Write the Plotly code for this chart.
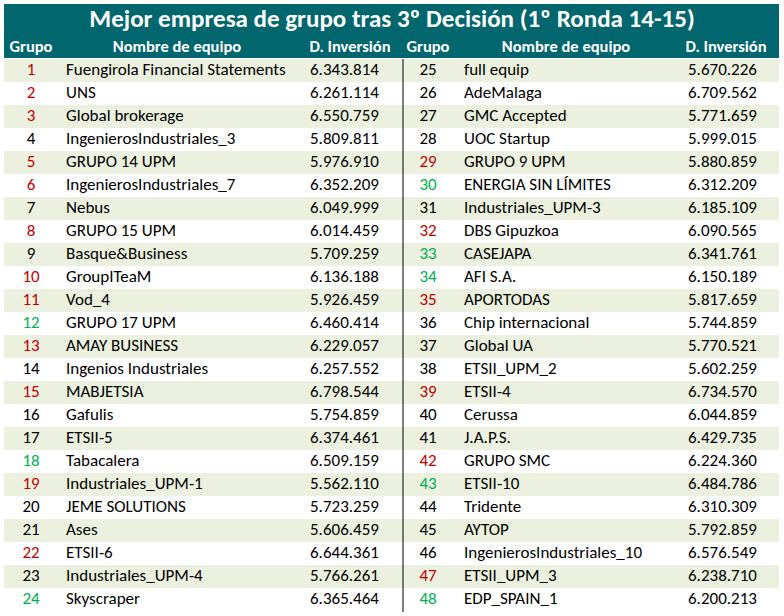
import plotly.graph_objects as go

title = "Mejor empresa de grupo tras 3º Decisión (1º Ronda 14-15)"
headers = ["Grupo", "Nombre de equipo", "D. Inversión"]

grupos = list(range(1, 49))
equipos = [
    "Fuengirola Financial Statements", "UNS", "Global brokerage", "IngenierosIndustriales_3",
    "GRUPO 14 UPM", "IngenierosIndustriales_7", "Nebus", "GRUPO 15 UPM", "Basque&Business",
    "GroupITeaM", "Vod_4", "GRUPO 17 UPM", "AMAY BUSINESS", "Ingenios Industriales",
    "MABJETSIA", "Gafulis", "ETSII-5", "Tabacalera", "Industriales_UPM-1", "JEME SOLUTIONS",
    "Ases", "ETSII-6", "Industriales_UPM-4", "Skyscraper",
    "full equip", "AdeMalaga", "GMC Accepted", "UOC Startup", "GRUPO 9 UPM",
    "ENERGIA SIN LÍMITES", "Industriales_UPM-3", "DBS Gipuzkoa", "CASEJAPA", "AFI S.A.",
    "APORTODAS", "Chip internacional", "Global UA", "ETSII_UPM_2", "ETSII-4", "Cerussa",
    "J.A.P.S.", "GRUPO SMC", "ETSII-10", "Tridente", "AYTOP", "IngenierosIndustriales_10",
    "ETSII_UPM_3", "EDP_SPAIN_1",
]
inversion = [
    6343814, 6261114, 6550759, 5809811, 5976910, 6352209, 6049999, 6014459, 5709259,
    6136188, 5926459, 6460414, 6229057, 6257552, 6798544, 5754859, 6374461, 6509159,
    5562110, 5723259, 5606459, 6644361, 5766261, 6365464,
    5670226, 6709562, 5771659, 5999015, 5880859, 6312209, 6185109, 6090565, 6341761,
    6150189, 5817659, 5744859, 5770521, 5602259, 6734570, 6044859, 6429735, 6224360,
    6484786, 6310309, 5792859, 6576549, 6238710, 6200213,
]
grupos_rojos = [1, 2, 3, 5, 6, 8, 10, 11, 13, 15, 19, 22, 29, 32, 35, 39, 42, 47]
grupos_verdes = [12, 18, 24, 30, 33, 34, 43, 48]

TEAL = "#02666E"
STRIPE = "#EBF1DE"
RED = "#C00000"
GREEN = "#00B050"
FONT = "Carlito, Calibri, Lato, sans-serif"

W, H = 784, 616
ROWS = 24
ROW_H = 23
TOP = 59
LEFT, RIGHT = 4, 779

# column anchors for the two halves
halves = [
    dict(g=31, n=66, v=310, hn=177, hv=350),
    dict(g=428, n=464, v=688, hn=566, hv=726),
]

def fmt(v):
    return f"{v:,}".replace(",", ".")

def color(g):
    if g in grupos_rojos:
        return RED
    if g in grupos_verdes:
        return GREEN
    return "#000000"

shapes = []
# title + header band
shapes.append(dict(type="rect", xref="x", yref="y", x0=LEFT, x1=RIGHT, y0=4, y1=TOP - 1,
                   fillcolor=TEAL, line_width=0, layer="below"))
for i in range(ROWS):
    if i % 2 == 0:
        shapes.append(dict(type="rect", xref="x", yref="y", x0=LEFT, x1=RIGHT,
                           y0=TOP + i * ROW_H, y1=TOP + (i + 1) * ROW_H,
                           fillcolor=STRIPE, line_width=0, layer="below"))
shapes.append(dict(type="line", xref="x", yref="y", x0=403, x1=403, y0=TOP,
                   y1=TOP + ROWS * ROW_H + 1, line=dict(color="#000000", width=1)))

fig = go.Figure()

for h, half in enumerate(halves):
    idx = range(h * ROWS, (h + 1) * ROWS)
    ys = [TOP + (i - h * ROWS) * ROW_H + ROW_H / 2 for i in idx]
    fig.add_trace(go.Scatter(
        x=[half["g"]] * ROWS, y=ys, mode="text",
        text=[str(grupos[i]) for i in idx], textposition="middle center",
        textfont=dict(family=FONT, size=17, color=[color(grupos[i]) for i in idx]),
        hoverinfo="skip", showlegend=False))
    fig.add_trace(go.Scatter(
        x=[half["n"]] * ROWS, y=ys, mode="text",
        text=[equipos[i] for i in idx], textposition="middle right",
        textfont=dict(family=FONT, size=17, color="#000000"),
        hoverinfo="skip", showlegend=False))
    fig.add_trace(go.Scatter(
        x=[half["v"]] * ROWS, y=ys, mode="text",
        text=[fmt(inversion[i]) for i in idx], textposition="middle right",
        textfont=dict(family=FONT, size=17, color="#000000"),
        hoverinfo="skip", showlegend=False))
    fig.add_trace(go.Scatter(
        x=[half["g"], half["hn"], half["hv"]], y=[48, 48, 48], mode="text",
        text=headers, textposition="middle center",
        textfont=dict(family=FONT, size=16.5, color="#FFFFFF", weight="bold"),
        hoverinfo="skip", showlegend=False))

fig.add_trace(go.Scatter(
    x=[392], y=[21], mode="text", text=[title], textposition="middle center",
    textfont=dict(family=FONT, size=25, color="#FFFFFF", weight="bold"),
    hoverinfo="skip", showlegend=False))

fig.update_layout(
    width=W, height=H, margin=dict(l=0, r=0, t=0, b=0),
    paper_bgcolor="#FFFFFF", plot_bgcolor="#FFFFFF",
    xaxis=dict(range=[0, W], visible=False, fixedrange=True),
    yaxis=dict(range=[H, 0], visible=False, fixedrange=True),
    shapes=shapes,
)

fig.write_html("out.html", config={"displayModeBar": False},
               post_script="document.body.style.margin='0';document.body.style.overflow='hidden';")
